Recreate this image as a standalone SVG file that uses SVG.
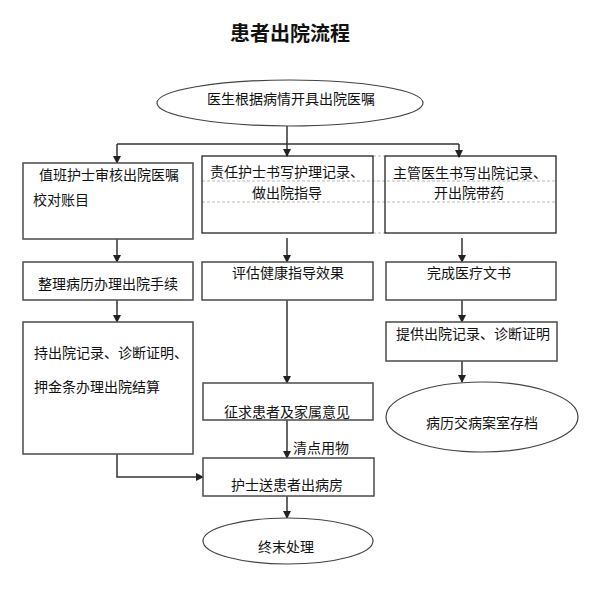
<svg xmlns="http://www.w3.org/2000/svg" width="595" height="600" viewBox="0 0 595 600">
<defs>
<marker id="arr" markerWidth="8" markerHeight="8" refX="7" refY="4" orient="auto" markerUnits="userSpaceOnUse">
<path d="M0,0 L8,4 L0,8 Z" fill="#222"/>
</marker>
<style>
text{font-family:"Noto Sans CJK SC","Liberation Sans",sans-serif;font-size:14px;fill:#111}
.t{font-size:20px;font-weight:bold}
.bx{fill:#fff;stroke:#555;stroke-width:1.6}
.bk{fill:none;stroke:#111;stroke-width:1.2}
.el{fill:#fff;stroke:#444;stroke-width:1.2}
.dash{stroke:#bbb;stroke-width:1;stroke-dasharray:3,2;fill:none}
.c{stroke:#333;stroke-width:1.5;fill:none}
.ca{stroke:#333;stroke-width:1.5;fill:none;marker-end:url(#arr)}
</style>
</defs>
<rect width="595" height="600" fill="#fff"/>
<text class="t" x="290" y="41" text-anchor="middle">患者出院流程</text>

<g id="grid">
<line class="dash" x1="202" y1="181" x2="556" y2="181"/>
<line class="dash" x1="202" y1="202" x2="556" y2="202"/>
<line class="dash" x1="373" y1="156" x2="385" y2="156"/>
<line class="dash" x1="373" y1="233" x2="385" y2="233"/>
</g>

<g id="connectors">
<line class="c" x1="287" y1="126" x2="287" y2="144"/>
<line class="c" x1="117" y1="144" x2="459" y2="144"/>
<line class="ca" x1="117" y1="144" x2="117" y2="163"/>
<line class="ca" x1="287" y1="144" x2="287" y2="156"/>
<line class="ca" x1="459" y1="144" x2="459" y2="157"/>
<line class="ca" x1="117" y1="239" x2="117" y2="262"/>
<line class="ca" x1="287" y1="238" x2="287" y2="262"/>
<line class="ca" x1="462" y1="238" x2="462" y2="262"/>
<line class="ca" x1="117" y1="300" x2="117" y2="322"/>
<line class="ca" x1="287" y1="300" x2="287" y2="383"/>
<line class="ca" x1="462" y1="300" x2="462" y2="322"/>
<line class="ca" x1="462" y1="361" x2="462" y2="382"/>
<line class="ca" x1="287" y1="420" x2="287" y2="458"/>
<polyline class="ca" points="117,454 117,477 203,477"/>
<line class="ca" x1="287" y1="496" x2="287" y2="518"/>
</g>

<g id="start">
<ellipse class="el" cx="290" cy="103" rx="133" ry="23"/>
<text x="207" y="104">医生根据病情开具出院医嘱</text>
</g>
<g id="n1">
<rect class="bx" x="23" y="163" width="170" height="76"/>
<text x="39" y="180">值班护士审核出院医嘱</text>
<text x="33" y="205">校对账目</text>
</g>
<g id="n2">
<rect class="bk" x="202" y="156" width="171" height="77"/>
<text x="210" y="177">责任护士书写护理记录、</text>
<text x="287" y="198" text-anchor="middle">做出院指导</text>
</g>
<g id="n3">
<rect class="bk" x="385" y="156" width="171" height="77"/>
<text x="393" y="178">主管医生书写出院记录、</text>
<text x="434" y="198">开出院带药</text>
</g>
<g id="n4">
<rect class="bx" x="23" y="262" width="170" height="38"/>
<text x="38" y="289">整理病历办理出院手续</text>
</g>
<g id="n5">
<rect class="bx" x="202" y="262" width="171" height="38"/>
<text x="232" y="278">评估健康指导效果</text>
</g>
<g id="n6">
<rect class="bx" x="386" y="262" width="170" height="38"/>
<text x="427" y="278">完成医疗文书</text>
</g>
<g id="n7">
<rect class="bx" x="23" y="322" width="170" height="132"/>
<text x="34" y="358">持出院记录、诊断证明、</text>
<text x="34" y="392">押金条办理出院结算</text>
</g>
<g id="n8">
<rect class="bx" x="386" y="322" width="171" height="39"/>
<text x="396" y="339">提供出院记录、诊断证明</text>
</g>
<g id="n9">
<rect class="bx" x="203" y="383" width="170" height="37"/>
<text x="224" y="417">征求患者及家属意见</text>
</g>
<g id="n10">
<ellipse class="el" cx="482" cy="417" rx="96" ry="35"/>
<text x="426" y="428">病历交病案室存档</text>
</g>
<text x="293" y="453">清点用物</text>
<g id="n11">
<rect class="bx" x="203" y="458" width="171" height="38"/>
<text x="231" y="490">护士送患者出病房</text>
</g>
<g id="end">
<ellipse class="el" cx="288" cy="541" rx="85" ry="23"/>
<text x="258" y="552">终末处理</text>
</g>
</svg>
